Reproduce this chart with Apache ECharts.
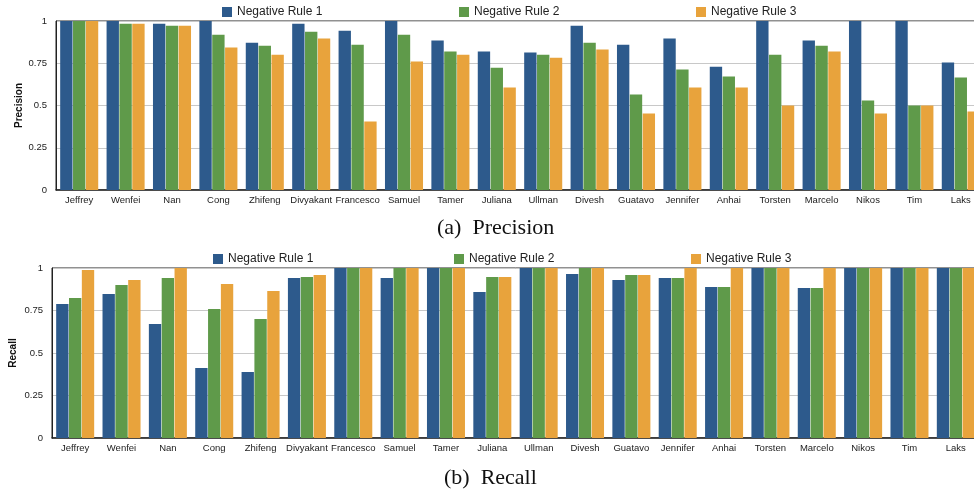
<!DOCTYPE html>
<html>
<head>
<meta charset="utf-8">
<script src="https://cdn.jsdelivr.net/npm/echarts@6/dist/echarts.min.js"></script>
<style>
html, body { margin: 0; padding: 0; background: #fff; overflow: hidden; }
#chart { width: 990px; height: 491px; }
</style>
</head>
<body>
<div id="chart"></div>
<script>
let names = ['Jeffrey', 'Wenfei', 'Nan', 'Cong', 'Zhifeng', 'Divyakant', 'Francesco', 'Samuel', 'Tamer', 'Juliana',
    'Ullman', 'Divesh', 'Guatavo', 'Jennifer', 'Anhai', 'Torsten', 'Marcelo', 'Nikos', 'Tim', 'Laks']
let ruleNames = ['Negative Rule 1', 'Negative Rule 2', 'Negative Rule 3']
let yTicks = [0, 0.25, 0.5, 0.75, 1]

// precision
let prec_rule1 = [1, 1, 0.984, 1, 0.872, 0.984, 0.943, 1, 0.884, 0.819, 0.813, 0.972, 0.86, 0.896, 0.73, 1, 0.884, 1, 1, 0.754]
let prec_rule2 = [1, 0.984, 0.972, 0.919, 0.854, 0.937, 0.86, 0.919, 0.819, 0.724, 0.801, 0.872, 0.565, 0.713, 0.671, 0.801, 0.854, 0.53, 0.5, 0.665]
let prec_rule3 = [1, 0.984, 0.972, 0.843, 0.801, 0.896, 0.406, 0.76, 0.801, 0.606, 0.783, 0.831, 0.453, 0.606, 0.606, 0.5, 0.819, 0.453, 0.5, 0.465]

// recall
let rec_rule1 = [0.788, 0.847, 0.671, 0.412, 0.388, 0.941, 1, 0.941, 1, 0.859, 1, 0.965, 0.929, 0.941, 0.888, 1, 0.882, 1, 1, 1]
let rec_rule2 = [0.824, 0.9, 0.941, 0.759, 0.7, 0.947, 1, 1, 1, 0.947, 1, 1, 0.959, 0.941, 0.888, 1, 0.882, 1, 1, 1]
let rec_rule3 = [0.988, 0.929, 1, 0.906, 0.865, 0.959, 1, 1, 1, 0.947, 1, 1, 0.959, 1, 1, 1, 1, 1, 1, 1]

let colors = ['#2d5a8c', '#5f9a4a', '#e8a33c']

function xAxisFor(idx) {
    return {
        type: 'category',
        gridIndex: idx,
        data: names,
        axisTick: { show: false },
        axisLine: { lineStyle: { color: '#222', width: 1.5 } },
        axisLabel: { interval: 0, fontSize: 9.5, color: '#222', margin: 5, fontFamily: 'Liberation Sans' }
    }
}

function yAxisFor(idx, title, gap) {
    return {
        type: 'value',
        gridIndex: idx,
        min: yTicks[0],
        max: yTicks[yTicks.length - 1],
        interval: 0.25,
        name: title,
        nameLocation: 'middle',
        nameGap: gap,
        nameMoveOverlap: false,
        nameTextStyle: { fontSize: 10, fontWeight: 'bold', color: '#111', fontFamily: 'Liberation Sans' },
        axisLine: { show: true, lineStyle: { color: '#222', width: 1 } },
        axisTick: { show: false },
        axisLabel: {
            fontSize: 9.5, color: '#222', margin: 9, fontFamily: 'Liberation Sans',
            formatter: function (v) { return String(v) }
        },
        splitLine: { lineStyle: { color: '#c8c8c8', width: 1 } }
    }
}

function barSeries(name, data, idx, color) {
    return {
        name: name,
        type: 'bar',
        xAxisIndex: idx,
        yAxisIndex: idx,
        data: data,
        barCategoryGap: '18%',
        barGap: '4%',
        itemStyle: { color: color }
    }
}

let legendLeftTop = [222, 459, 696]
let legendLeftBottom = [213, 454, 691]
let legends = []
for (let i = 0; i < 3; i++) {
    legends.push({
        data: [ruleNames[i]], left: legendLeftTop[i], top: 6, padding: 0,
        itemWidth: 10, itemHeight: 10, icon: 'rect',
        textStyle: { fontSize: 12, color: '#222', fontFamily: 'Liberation Sans' }
    })
    legends.push({
        data: [ruleNames[i]], left: legendLeftBottom[i], top: 253, padding: 0,
        itemWidth: 10, itemHeight: 10, icon: 'rect',
        textStyle: { fontSize: 12, color: '#222', fontFamily: 'Liberation Sans' }
    })
}

let option = {
    animation: false,
    title: [
        {
            text: '(a)  Precision', left: 437, top: 217, padding: 0,
            textStyle: { fontFamily: 'Liberation Serif', fontSize: 22, fontWeight: 'normal', color: '#111' }
        },
        {
            text: '(b)  Recall', left: 444, top: 467, padding: 0,
            textStyle: { fontFamily: 'Liberation Serif', fontSize: 22, fontWeight: 'normal', color: '#111' }
        }
    ],
    legend: legends,
    grid: [
        { left: 56, top: 21, width: 928, height: 169, show: true, borderColor: '#222', borderWidth: 1 },
        { left: 51, top: 268, width: 928, height: 170, show: true, borderColor: '#222', borderWidth: 1 }
    ],
    xAxis: [xAxisFor(0), xAxisFor(1)],
    yAxis: [yAxisFor(0, 'Precision', 32), yAxisFor(1, 'Recall', 34)],
    series: [
        barSeries(ruleNames[0], prec_rule1, 0, colors[0]),
        barSeries(ruleNames[1], prec_rule2, 0, colors[1]),
        barSeries(ruleNames[2], prec_rule3, 0, colors[2]),
        barSeries(ruleNames[0], rec_rule1, 1, colors[0]),
        barSeries(ruleNames[1], rec_rule2, 1, colors[1]),
        barSeries(ruleNames[2], rec_rule3, 1, colors[2])
    ]
}

const dom = document.getElementById('chart')
const myChart = echarts.init(dom)
myChart.setOption(option, true)
</script>
</body>
</html>
